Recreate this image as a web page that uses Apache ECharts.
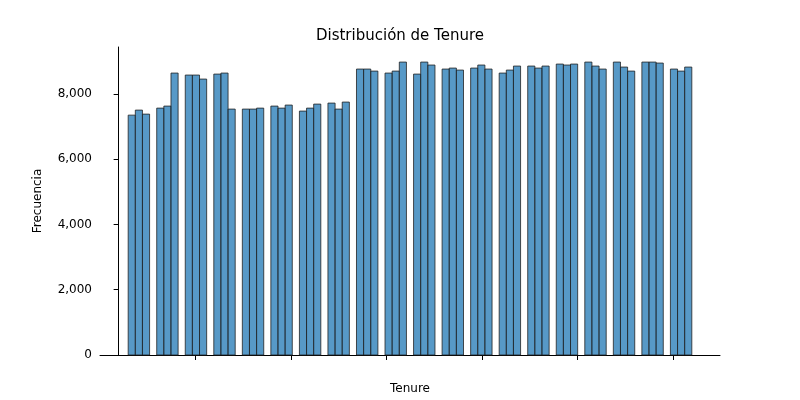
<!DOCTYPE html>
<html>
<head>
<meta charset="utf-8" />
<title>Distribución de Tenure</title>
<script src="https://cdn.jsdelivr.net/npm/echarts@6/dist/echarts.min.js"></script>
<style>body{margin:0}</style>
</head>
<body>
<div id="main" style="width:800px;height:400px"></div>
<script type="text/javascript">
// tenure values 1..60 and the frequency
var tenures = [];
for (var t = 1; t <= 60; t++) tenures.push(t);
var counts = [
  7352, 7506, 7383, 7567, 7629, 8641, 8580, 8580, 8457, 8610,
  8641, 7537, 7537, 7537, 7567, 7629, 7567, 7660, 7476, 7567,
  7690, 7721, 7537, 7752, 8764, 8764, 8702, 8641, 8702, 8978,
  8610, 8978, 8887, 8764, 8794, 8733, 8794, 8887, 8764, 8641,
  8733, 8856, 8856, 8794, 8856, 8917, 8887, 8917, 8978, 8856,
  8764, 8978, 8825, 8702, 8978, 8978, 8948, 8764, 8702, 8825
];
var nBins = 79;
var binW = 59 / nBins;

var myChart = echarts.init(document.getElementById("main"));
var option = {
  animation: false,
  title: {
    text: "Distribución de Tenure",
    left: "center",
    top: 24,
    textStyle: { fontFamily: "DejaVu Sans", fontSize: 15, fontWeight: "normal", color: "#000" }
  },
  grid: { left: 100, right: 80, top: 47, bottom: 44 },
  xAxis: {
    type: "value",
    min: -1.95, max: 62.95, interval: 10,
    name: "Tenure", nameLocation: "middle", nameGap: 28,
    nameTextStyle: { fontFamily: "DejaVu Sans", fontSize: 12, color: "#000" },
    axisLine: { lineStyle: { color: "#000" } },
    axisTick: { lineStyle: { color: "#000" } },
    splitLine: { show: false },
    axisLabel: {
      fontFamily: "DejaVu Sans", fontSize: 12, color: "#000",
      showMinLabel: false, showMaxLabel: false,
      formatter: function (v) { return Math.abs(v - Math.round(v)) < 1e-6 && Math.round(v) % 10 === 0 ? String(Math.round(v)) : ""; }
    }
  },
  yAxis: {
    type: "value",
    min: 0, max: 9440, interval: 2000,
    name: "Frecuencia", nameLocation: "middle", nameGap: 56,
    nameTextStyle: { fontFamily: "DejaVu Sans", fontSize: 12, color: "#000" },
    axisLine: { show: true, lineStyle: { color: "#000" } },
    axisTick: { show: true, lineStyle: { color: "#000" } },
    splitLine: { show: false },
    axisLabel: {
      fontFamily: "DejaVu Sans", fontSize: 12, color: "#000",
      showMaxLabel: false
    }
  },
  series: [{
    type: "custom",
    data: tenures.map(function (t, i) { return [t, counts[i]]; }),
    renderItem: function (params, api) {
      var t = api.value(0);
      var bin = Math.floor((t - 1) / binW + 1e-9);
      if (bin >= nBins) bin = nBins - 1;
      var x0 = 1 + bin * binW;
      var p0 = api.coord([x0, api.value(1)]);
      var p1 = api.coord([x0 + binW, 0]);
      return {
        type: "rect",
        shape: { x: p0[0], y: p0[1], width: p1[0] - p0[0], height: p1[1] - p0[1] },
        style: { fill: "rgba(31,119,180,0.75)", stroke: "#222", lineWidth: 0.8 }
      };
    }
  }]
};
myChart.setOption(option);
</script>
</body>
</html>
